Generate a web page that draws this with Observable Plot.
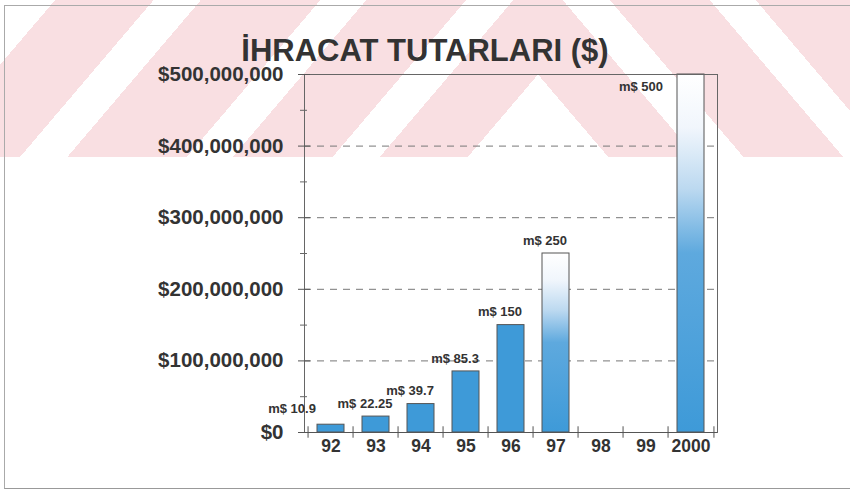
<!DOCTYPE html>
<html>
<head>
<meta charset="utf-8">
<script src="https://cdn.jsdelivr.net/npm/d3@7"></script>
<script src="https://cdn.jsdelivr.net/npm/@observablehq/plot@0.6"></script>
<style>
  html, body { margin: 0; padding: 0; background: #fff; }
  body { width: 850px; height: 494px; overflow: hidden; position: relative; font-family: "Liberation Sans", Arial, sans-serif; }
  .wm { position: absolute; top: 0; left: 0; width: 538px; height: 157px;
        background: linear-gradient(130.4deg,
          #fff 0px, #fff 42px, #f9dfe2 42px, #f9dfe2 117px, #fff 117px, #fff 153px,
          #f9dfe2 153px, #f9dfe2 244px, #fff 244px, #fff 279px, #f9dfe2 279px, #f9dfe2 355px,
          #fff 355px, #fff 391px, #f9dfe2 391px, #f9dfe2 458px, #fff 458px, #fff 520px); }
  .wm.r { transform-origin: 538px 0; transform: scaleX(-1); }
  .border { position: absolute; left: 4px; top: 5px; width: 850px; height: 482px;
            border-left: 1px solid #aaa; border-top: 1px solid #aaa; border-bottom: 1px solid #999; }
  #title { position: relative; height: 40px; box-sizing: border-box; padding-top: 35px; overflow: visible;
           text-align: center; font: bold 31px/31px "Liberation Sans", Arial, sans-serif; color: #333; white-space: nowrap; }
  #chart { position: relative; }
</style>
</head>
<body>
<div class="wm"></div>
<div class="wm r"></div>
<div class="border"></div>
<div id="title">İHRACAT TUTARLARI ($)</div>
<div id="chart"></div>
<script>
// ---- data ----
const years = ["92", "93", "94", "95", "96", "97", "98", "99", "2000"];
const exportsMillions = [10.9, 22.25, 39.7, 85.3, 150, 250, null, null, 500];
const majorTicks = [0, 100e6, 200e6, 300e6, 400e6, 500e6];
const minorTicks = [50e6, 150e6, 250e6, 350e6, 450e6];
const gridLines = [100e6, 200e6, 300e6, 400e6];

const data = years.map((year, i) => ({year, m: exportsMillions[i], value: exportsMillions[i] == null ? null : exportsMillions[i] * 1e6}));
const bars = data.filter(d => d.value != null);

const W = 850, H = 454, ML = 304, MR = 133, MT = 34, MB = 62;
const step = (W - ML - MR) / years.length;
const blue = "#3e9ad8";
const ink = "#333";
const fadeYears = new Set(["97", "2000"]);
const labelText = d => `m$ ${d.m}`;

const chart = Plot.plot({
  width: W, height: H,
  marginLeft: ML, marginRight: MR, marginTop: MT, marginBottom: MB,
  style: {background: "transparent", fontFamily: "'Liberation Sans', Arial, sans-serif", color: ink, overflow: "visible"},
  x: {type: "band", domain: years, paddingInner: 0.41, paddingOuter: 0.205, align: 0.5},
  y: {domain: [0, 500e6]},
  marks: [
    Plot.ruleY(gridLines, {stroke: "#777", strokeDasharray: "7,6", strokeWidth: 1}),
    Plot.barY(bars, {x: "year", y: "value", fill: d => fadeYears.has(d.year) ? "url(#fade)" : blue, stroke: "#555", strokeWidth: 1}),
    Plot.frame({stroke: "#666", strokeWidth: 1}),
    Plot.ruleY([0], {stroke: "#555", strokeWidth: 1}),
    Plot.ruleX(years, {x: d => d, y1: -8e6, y2: 8e6, dx: -step / 2, stroke: "#555"}),
    Plot.ruleX(years.slice(-1), {x: d => d, y1: -8e6, y2: 8e6, dx: step / 2, stroke: "#555"}),
    Plot.axisY({ticks: majorTicks, tickSize: 12, dx: 6, tickPadding: 15, tickFormat: d3.format("$,"),
      fontSize: 20.5, fontWeight: "bold", stroke: "#555", fill: ink, label: null}),
    Plot.axisY({ticks: minorTicks, tickSize: 7, dx: 3, fill: "none", stroke: "#666", label: null}),
    Plot.axisX({tickSize: 0, tickPadding: 7, fontSize: 17.5, fontWeight: "bold", fill: ink, label: null}),
    Plot.text(bars.slice(0, 1), {x: "year", y: "value", text: labelText, dx: -39, dy: -16, fontSize: 13, fontWeight: "bold", fill: ink}),
    Plot.text(bars.slice(1, -1), {x: "year", y: "value", text: labelText, dx: -11, dy: -13, fontSize: 13, fontWeight: "bold", fill: ink}),
    Plot.text(bars.slice(-1), {x: "year", y: "value", text: labelText, dx: -50, dy: 12, fontSize: 13, fontWeight: "bold", fill: ink})
  ]
});
chart.insertAdjacentHTML("afterbegin",
  `<defs><linearGradient id="fade" x1="0" y1="0" x2="0" y2="1">
     <stop offset="0" stop-color="#ffffff"/>
     <stop offset="0.15" stop-color="#f1f6fc"/>
     <stop offset="0.32" stop-color="#bcd9f0"/>
     <stop offset="0.5" stop-color="#5ea9de"/>
     <stop offset="1" stop-color="${blue}"/>
   </linearGradient></defs>`);
document.getElementById("chart").append(chart);
</script>
</body>
</html>
